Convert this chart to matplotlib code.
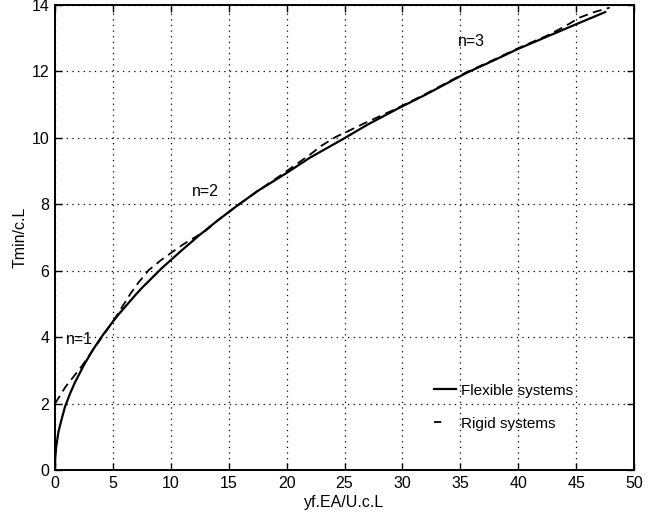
import matplotlib
matplotlib.use("Agg")
import matplotlib.pyplot as plt
from matplotlib.lines import Line2D

plt.rcParams['font.family'] = ['Liberation Sans', 'DejaVu Sans']

# Flexible systems (solid)
flex_x = [0, 0.02, 0.1, 0.3, 0.55, 0.86, 1.3, 1.7, 2.45, 3.2, 4.0, 5.0, 5.6, 7.0, 7.5,
          9.2, 10.9, 12.5, 14.0, 15.7, 17.5, 19.9, 22.0, 24.9, 27.0, 29.6, 32.0, 35.5,
          38.0, 40.0, 42.5, 45.0, 47.6]
flex_y = [0, 0.35, 0.7, 1.15, 1.5, 1.9, 2.3, 2.62, 3.13, 3.58, 4.0, 4.47, 4.73, 5.29, 5.48,
          6.07, 6.6, 7.08, 7.5, 7.95, 8.4, 8.92, 9.4, 9.97, 10.4, 10.88, 11.3, 11.95,
          12.35, 12.68, 13.05, 13.42, 13.8]

# Rigid systems (dashed)
rigid_x = [0, 0.9, 2.3, 3.5, 4.3, 5.0, 5.6, 6.5, 7.2, 8.1, 9.2, 10.4, 11.1, 12.2, 13.0,
           14.0, 15.7, 17.5, 19.4, 20.9, 22.0, 23.0, 24.2, 25.3, 26.6, 28.1, 29.6, 32.0,
           35.5, 38.0, 40.0, 42.5, 44.0, 45.3, 46.5, 47.9]
rigid_y = [2.0, 2.5, 3.12, 3.72, 4.12, 4.47, 4.8, 5.3, 5.64, 6.02, 6.33, 6.63, 6.8, 7.03,
           7.2, 7.5, 7.95, 8.4, 8.85, 9.22, 9.49, 9.76, 10.02, 10.2, 10.42, 10.66, 10.9,
           11.32, 11.97, 12.37, 12.7, 13.08, 13.35, 13.62, 13.78, 13.92]

annotations = [("n=1", 0.95, 3.94), ("n=2", 11.8, 8.38), ("n=3", 34.8, 12.9)]
x_ticks = [0, 5, 10, 15, 20, 25, 30, 35, 40, 45, 50]
y_ticks = [0, 2, 4, 6, 8, 10, 12, 14]

fig = plt.figure(figsize=(6.59, 5.13), dpi=100)
ax = fig.add_axes([55/659, 1-470/513, (634-55)/659, (470-5)/513])

ax.plot(flex_x, flex_y, color='black', lw=1.6, solid_capstyle='butt')
ax.plot(rigid_x, rigid_y, color='black', lw=1.3, ls=(0, (5, 3)))

for t, x, y in annotations:
    ax.text(x, y, t, fontsize=11.5, va='center', ha='left')

ax.set_xlim(0, 50)
ax.set_ylim(0, 14)
ax.set_xticks(x_ticks)
ax.set_yticks(y_ticks)
ax.grid(True, color='black', ls=(0, (1, 3.5)), lw=0.9)
ax.tick_params(direction='in', top=True, right=True, length=5, width=1,
               labelsize=11.5, pad=4)
for s in ax.spines.values():
    s.set_linewidth(1.4)

ax.set_xlabel('yf.EA/U.c.L', fontsize=11.5, labelpad=3)
ax.set_ylabel('Tmin/c.L', fontsize=11.5, labelpad=3)

handles = [Line2D([], [], color='black', lw=1.6),
           Line2D([], [], color='black', lw=1.3, ls=(0, (4, 20)))]
ax.legend(handles, ['Flexible systems', 'Rigid systems'], loc='lower left',
          bbox_to_anchor=(0.63, 0.055), frameon=False, fontsize=11,
          handlelength=1.5, handletextpad=0.3, labelspacing=1.25)

fig.savefig('out.png', dpi=100)
